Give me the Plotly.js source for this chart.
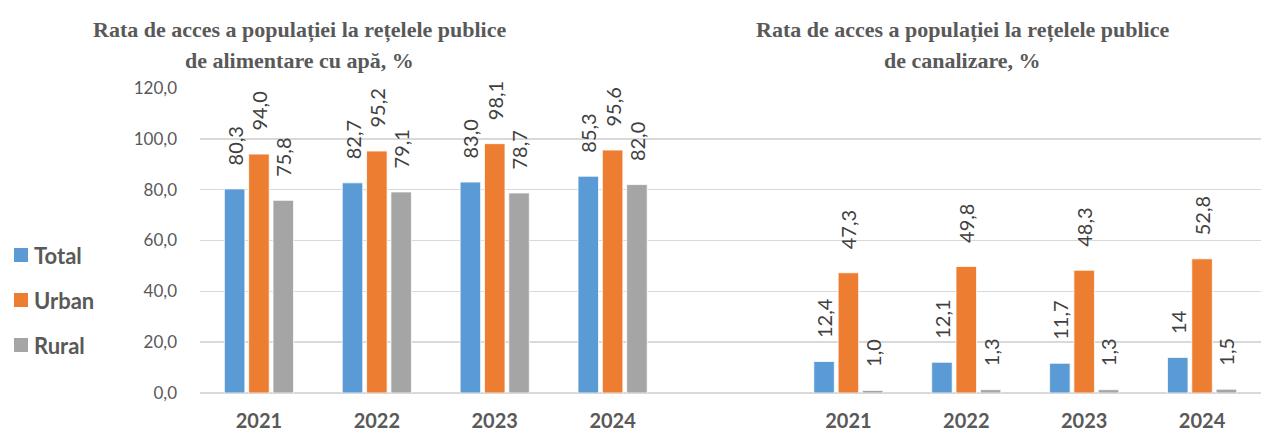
<!DOCTYPE html>
<html>
<head>
<meta charset="utf-8">
<script src="https://cdn.plot.ly/plotly-3.0.1.min.js"></script>
<style>html,body{margin:0;padding:0;background:#fff;}#chart{width:1285px;height:433px;}</style>
</head>
<body>
<div id="chart"></div>
<script>
// ---- data ----
const years = ["2021", "2022", "2023", "2024"];
const waterTotal = [80.3, 82.7, 83.0, 85.3];
const waterUrban = [94.0, 95.2, 98.1, 95.6];
const waterRural = [75.8, 79.1, 78.7, 82.0];
const sewerTotal = [12.4, 12.1, 11.7, 14];
const sewerUrban = [47.3, 49.8, 48.3, 52.8];
const sewerRural = [1.0, 1.3, 1.3, 1.5];
const sewerTotalLabels = ["12,4", "12,1", "11,7", "14"];
const seriesNames = ["Total", "Urban", "Rural"];
const titleWater = ["Rata de acces a populației la rețelele publice", "de alimentare cu apă, %"];
const titleSewer = ["Rata de acces a populației la rețelele publice", "de canalizare, %"];
const yTicks = [0, 20, 40, 60, 80, 100, 120];

// ---- build ----
const colors = ["#5B9BD5", "#ED7D31", "#A5A5A5"];
const fmt = v => v.toFixed(1).replace('.', ',');
const pad = '\u00a0\u00a0\u00a0\u00a0';
// slot positions on one continuous category scale: water groups, one empty slot, sewer groups
const leftPos = years.map((_, i) => i);
const rightPos = years.map((_, i) => i + years.length + 1);
const xPos = leftPos.concat(rightPos);
const xText = years.concat(years);

const water = [waterTotal, waterUrban, waterRural];
const sewer = [sewerTotal, sewerUrban, sewerRural];

const baseFont = 'Lato, "Open Sans", sans-serif';

const traces = seriesNames.map((name, k) => {
  const y = water[k].concat(sewer[k]);
  const sewerLbl = k === 0 ? sewerTotalLabels : sewer[k].map(fmt);
  const txt = water[k].map(fmt).concat(sewerLbl).map(s => pad + s);
  return {
    type: 'bar', name: name, x: xPos, y: y,
    marker: {color: colors[k], line: {color: '#ffffff', width: 0.8}},
    text: txt, textposition: 'outside', textangle: -90,
    constraintext: 'none', cliponaxis: false,
    textfont: {family: baseFont, size: 20, color: '#404040'},
    hoverinfo: 'x+y'
  };
});

const W = 1285, H = 433, L = 200, R = 24, T = 88, B = 40;
const pw = W - L - R, ph = H - T - B;
const px = p => (p - L) / pw;
const py = p => (H - B - p) / ph;
const titleFont = {family: '"Liberation Serif", "Times New Roman", serif', size: 22, color: '#595959'};
const ann = [];
const shapes = [];
[[titleWater, 299], [titleSewer, 962]].forEach(([lines, cx]) => {
  lines.forEach((t, i) => {
    ann.push({text: '<b>' + t + '</b>', xref: 'paper', yref: 'paper', x: px(cx), y: py(30 + i * 30),
      xanchor: 'center', yanchor: 'middle', showarrow: false, font: titleFont});
  });
});
// legend (drawn as keys beside the value axis)
seriesNames.forEach((name, k) => {
  const cy = 255 + k * 45;
  shapes.push({type: 'rect', xref: 'paper', yref: 'paper', x0: px(14), x1: px(28), y0: py(cy - 7), y1: py(cy + 7),
    fillcolor: colors[k], line: {width: 0}, layer: 'above'});
  ann.push({text: '<b>' + name + '</b>', xref: 'paper', yref: 'paper', x: px(32), y: py(cy),
    xanchor: 'left', yanchor: 'middle', showarrow: false,
    font: {family: baseFont, size: 22, color: '#595959'}});
});

const layout = {
  width: W, height: H,
  margin: {l: L, r: R, t: T, b: B},
  paper_bgcolor: '#ffffff', plot_bgcolor: '#ffffff',
  separators: ', ',
  barmode: 'group', bargap: 0.381, bargroupgap: 0.155,
  showlegend: false,
  xaxis: {
    range: [-0.5, xPos[xPos.length - 1] + 0.5], tickvals: xPos, ticktext: xText,
    showgrid: false, zeroline: false, showline: false, ticks: '',
    ticklabelstandoff: 14, automargin: false,
    tickfont: {family: baseFont, size: 20, color: '#595959', weight: 'bold'},
    fixedrange: true
  },
  yaxis: {
    range: [0, 120], tickvals: yTicks, tickformat: '.1f',
    showgrid: true, gridcolor: '#D9D9D9', gridwidth: 1.5,
    zeroline: true, zerolinecolor: '#D9D9D9', zerolinewidth: 1.5,
    showline: false, ticks: '', ticklabelstandoff: 22, automargin: false,
    tickfont: {family: baseFont, size: 17, color: '#595959'},
    fixedrange: true
  },
  annotations: ann,
  shapes: shapes
};

Plotly.newPlot('chart', traces, layout, {displayModeBar: false, staticPlot: true});
</script>
</body>
</html>
